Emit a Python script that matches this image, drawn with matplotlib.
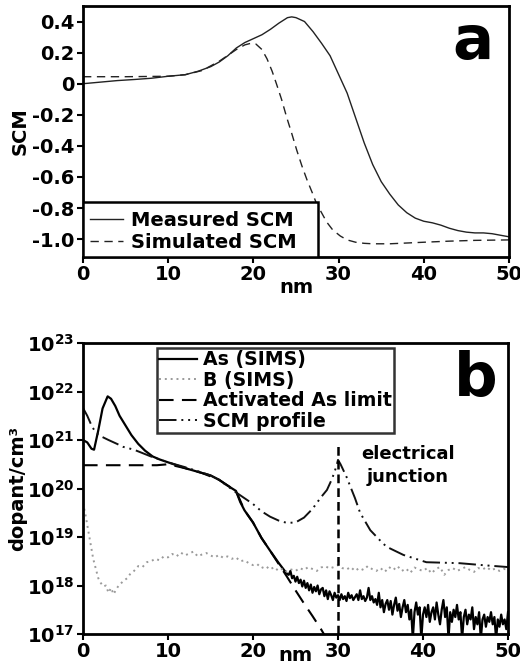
import numpy as np
import matplotlib
matplotlib.use("Agg")
import matplotlib.pyplot as plt
from matplotlib.patches import Rectangle

plt.rcParams['font.family'] = ['DejaVu Sans']
plt.rcParams['font.weight'] = 'bold'
plt.rcParams['mathtext.fontset'] = 'dejavusans'

# ---------------- Panel a data ----------------
meas_x = [0, 2, 4, 6, 8, 10, 12, 13.5, 15, 16, 17, 18, 19, 20, 21, 22, 23, 24, 24.5, 25,
          26, 27, 28, 29, 30, 30.5, 31, 32, 33, 34, 35, 36, 37, 38, 39, 40, 41, 42, 43,
          44, 45, 46, 47, 48, 49, 50]
meas_y = [0.0, 0.01, 0.02, 0.027, 0.035, 0.048, 0.058, 0.08, 0.11, 0.14, 0.18, 0.23, 0.265,
          0.29, 0.315, 0.35, 0.39, 0.425, 0.43, 0.425, 0.40, 0.335, 0.26, 0.18, 0.06, 0.0,
          -0.06, -0.22, -0.38, -0.52, -0.63, -0.71, -0.78, -0.83, -0.865, -0.885, -0.895,
          -0.91, -0.93, -0.945, -0.955, -0.96, -0.96, -0.965, -0.975, -0.985]

sim_x = [0, 5, 10, 12, 14, 16, 18, 19, 19.7, 20.3, 21, 21.6, 22.2, 22.7, 23.3, 23.9, 24.5,
         25.1, 25.7, 26.3, 26.9, 27.4, 28, 28.6, 29.3, 30.2, 31, 32, 33, 34, 36, 38, 40,
         43, 46, 50]
sim_y = [0.045, 0.045, 0.048, 0.058, 0.085, 0.145, 0.22, 0.25, 0.26, 0.255, 0.22, 0.16,
         0.08, 0.0, -0.1, -0.215, -0.32, -0.43, -0.53, -0.62, -0.70, -0.77, -0.83, -0.89,
         -0.94, -0.98, -1.005, -1.02, -1.027, -1.03, -1.03, -1.025, -1.02, -1.013, -1.008,
         -1.005]

a_yticks = [0.4, 0.2, 0, -0.2, -0.4, -0.6, -0.8, -1.0]
a_ylabels = ["0.4", "0.2", "0", "-0.2", "-0.4", "-0.6", "-0.8", "-1.0"]
x_ticks = [0, 10, 20, 30, 40, 50]

# ---------------- Panel b data (log10 of dopant/cm^3) ----------------
as_x = [0, 0.5, 1.0, 1.3, 1.8, 2.3, 2.9, 3.3, 3.8, 4.3, 5, 5.7, 6.5, 7.3, 8.2, 9, 10, 11,
        12, 13, 14, 15, 16, 17, 18, 18.5, 19, 20, 21, 22, 23, 24]
as_log = [21.0, 20.95, 20.82, 20.8, 21.2, 21.65, 21.9, 21.85, 21.7, 21.5, 21.3, 21.1,
          20.92, 20.78, 20.66, 20.6, 20.54, 20.48, 20.42, 20.37, 20.32, 20.27, 20.18,
          20.06, 19.95, 19.72, 19.55, 19.3, 18.98, 18.72, 18.47, 18.24]
# noisy tail of As (SIMS), every 0.2 nm from 24.2 to 50 nm
as_tail_log = [18.22, 18.30, 18.15, 18.20, 18.08, 18.18, 18.05, 18.12, 17.98, 18.10,
               17.95, 18.05, 17.90, 18.02, 17.85, 17.97, 17.88, 18.00, 17.82, 17.92,
               17.95, 17.78, 17.90, 17.72, 17.88, 17.80, 17.70, 17.85, 17.75, 17.80,
               17.70, 17.82, 17.72, 17.78, 17.68, 17.85, 17.74, 17.80, 17.70, 17.76,
               17.82, 17.70, 17.90, 17.72, 17.78, 17.68, 17.75, 17.95, 17.70, 17.78,
               17.65, 17.72, 17.60, 17.85, 17.55, 17.70, 17.45, 17.62, 17.70, 17.50,
               17.68, 17.40, 17.60, 17.75, 17.48, 17.62, 17.35, 17.55, 17.70, 17.45,
               17.60, 17.30, 17.50, 16.90, 17.45, 17.65, 17.40, 17.55, 16.90, 17.40,
               17.55, 17.35, 17.60, 17.25, 17.45, 17.55, 17.30, 17.65, 17.40, 17.20,
               17.50, 17.70, 17.35, 17.55, 16.90, 17.45, 17.25, 17.50, 17.35, 17.60,
               17.30, 17.45, 16.90, 17.35, 17.50, 17.20, 17.40, 17.30, 17.55, 17.10,
               17.35, 17.20, 17.45, 16.90, 17.30, 17.40, 17.15, 17.35, 17.25, 17.45,
               17.20, 17.35, 16.90, 17.30, 17.15, 17.40, 17.20, 17.30, 17.10, 17.45]
as_tail_x = np.round(np.arange(24.2, 50.0001, 0.2), 1)

b_x = [0, 0.3, 0.6, 0.9, 1.2, 1.5, 1.8, 2.1, 2.4, 2.7, 3.0, 3.3, 3.6, 3.9, 4.2, 4.5, 4.8,
       5.2, 5.6, 6.0, 6.5, 7, 7.5, 8, 8.5, 9, 9.5]
b_log = [19.7, 19.45, 19.15, 18.85, 18.55, 18.35, 18.15, 18.05, 17.98, 18.0, 17.85, 17.95,
         17.82, 17.92, 18.0, 18.05, 18.1, 18.15, 18.25, 18.3, 18.4, 18.38, 18.48, 18.5,
         18.55, 18.52, 18.6]
# B (SIMS) every 0.5 nm from 10 to 50 nm
b_tail_log = [18.58, 18.65, 18.60, 18.68, 18.62, 18.66, 18.70, 18.60, 18.64, 18.67,
              18.62, 18.58, 18.63, 18.57, 18.60, 18.55, 18.58, 18.50, 18.52, 18.46,
              18.42, 18.44, 18.36, 18.40, 18.33, 18.38, 18.30, 18.35, 18.28, 18.33,
              18.30, 18.36, 18.32, 18.38, 18.34, 18.30, 18.37, 18.40, 18.35, 18.38,
              18.42, 18.36, 18.33, 18.38, 18.30, 18.36, 18.32, 18.40, 18.34, 18.30,
              18.36, 18.28, 18.38, 18.32, 18.40, 18.30, 18.35, 18.26, 18.37, 18.33,
              18.30, 18.36, 18.25, 18.34, 18.38, 18.22, 18.32, 18.36, 18.30, 18.34,
              18.38, 18.32, 18.28, 18.36, 18.33, 18.38, 18.31, 18.35, 18.30, 18.34,
              18.33]
b_tail_x = np.arange(10, 50.0001, 0.5)

act_x = [0, 8.7, 10, 12, 14, 16, 18, 19, 20, 21, 22, 23, 24, 25, 26, 27, 28, 28.5]
act_log = [20.48, 20.48, 20.5, 20.42, 20.32, 20.18, 19.95, 19.55, 19.3, 18.98, 18.72,
           18.45, 18.18, 17.9, 17.63, 17.37, 17.1, 16.95]

scm_x = [0, 0.5, 1.0, 1.5, 2.3, 3, 4, 4.7, 6, 7, 8, 9, 10, 12, 14, 15, 16, 17, 18, 19, 20,
         21, 22, 23, 24, 25, 26, 27, 28, 28.7, 29.3, 29.8, 30, 30.3, 31, 32, 32.6, 33.8,
         35, 35.7, 37.7, 40.4, 44.3, 47, 50]
scm_log = [21.66, 21.5, 21.3, 21.15, 21.06, 21.0, 20.92, 20.86, 20.8, 20.73, 20.66, 20.6,
           20.54, 20.44, 20.33, 20.27, 20.18, 20.05, 19.92, 19.8, 19.68, 19.53, 19.42,
           19.34, 19.29, 19.3, 19.4, 19.58, 19.82, 19.97, 20.2, 20.45, 20.59, 20.5, 20.24,
           19.8, 19.5, 19.14, 18.92, 18.8, 18.63, 18.48, 18.46, 18.42, 18.38]

junction_x = 30
junction_top_log = 20.94

b_yexp = [17, 18, 19, 20, 21, 22, 23]

# ---------------- Figure ----------------
fig = plt.figure(figsize=(5.2, 6.61), dpi=100)
W, H = 520, 661
axa = fig.add_axes([83 / W, 1 - 257 / H, (509 - 83) / W, (257 - 6) / H])
axb = fig.add_axes([83 / W, 1 - 634 / H, (508 - 83) / W, (634 - 343) / H])

for ax in (axa, axb):
    for s in ax.spines.values():
        s.set_linewidth(2)
    ax.tick_params(direction='out', length=4, width=1.5, labelsize=14, pad=2)
    ax.set_xlim(0, 50)
    ax.set_xticks(x_ticks)
    ax.set_xticklabels([str(t) for t in x_ticks], fontweight='bold')

# Panel a
axa.plot(meas_x, meas_y, color='#222222', lw=1.0, label='Measured SCM')
axa.plot(sim_x, sim_y, color='#222222', lw=1.0, linestyle=(0, (6, 4)), label='Simulated SCM')
axa.set_ylim(-1.115, 0.5)
axa.set_yticks(a_yticks)
axa.set_yticklabels(a_ylabels, fontweight='bold')
axa.set_ylabel('SCM', fontsize=14, fontweight='bold', labelpad=2)
axa.text(0.5, -0.12, 'nm', transform=axa.transAxes, ha='center', va='center',
         fontsize=14, fontweight='bold')
axa.text(0.915, 0.855, 'a', transform=axa.transAxes, ha='center', va='center',
         fontsize=44, fontweight='bold')
lega = axa.legend(loc='lower left', bbox_to_anchor=(0.005, 0.0), borderaxespad=0,
                  prop={'size': 14, 'weight': 'bold'}, frameon=False,
                  handlelength=1.7, handletextpad=0.4,
                  labelspacing=0.15, borderpad=0.25)
axa.add_patch(Rectangle((0, 0), (318 - 83) / 426, (257 - 202) / 251,
                        transform=axa.transAxes, fill=True, facecolor='white',
                        edgecolor='black', lw=1.8, zorder=4))
lega.set_zorder(5)

# Panel b
axb.set_yscale('log')
axb.plot(list(as_x) + list(as_tail_x), [10 ** v for v in as_log + as_tail_log],
         color='black', lw=1.6, label='As (SIMS)')
axb.plot(list(b_x) + list(b_tail_x), [10 ** v for v in b_log + b_tail_log],
         color='#9a9a9a', lw=1.4, linestyle=(0, (1, 2)), label='B (SIMS)')
axb.plot(act_x, [10 ** v for v in act_log], color='black', lw=1.5,
         linestyle=(0, (7, 4)), label='Activated As limit')
axb.plot(scm_x, [10 ** v for v in scm_log], color='#111111', lw=1.4,
         linestyle=(0, (9, 2.5, 1, 2.5, 1, 2.5)), label='SCM profile')
axb.plot([junction_x, junction_x], [1e17, 10 ** junction_top_log], color='black',
         lw=1.8, linestyle=(0, (3.5, 2)))
axb.set_ylim(1e17, 1e23)
axb.set_yticks([10.0 ** e for e in b_yexp])
axb.set_yticklabels([r'$\mathbf{10}^{\mathbf{%d}}$' % e for e in b_yexp])
axb.yaxis.set_minor_locator(matplotlib.ticker.NullLocator())
axb.set_ylabel('dopant/cm³', fontsize=14, fontweight='bold', labelpad=0)
axb.text(0.5, -0.075, 'nm', transform=axb.transAxes, ha='center', va='center',
         fontsize=14, fontweight='bold')
axb.text(0.925, 0.875, 'b', transform=axb.transAxes, ha='center', va='center',
         fontsize=44, fontweight='bold')
axb.text(38.2, 10 ** 20.48, 'electrical\njunction', ha='center', va='center',
         fontsize=13, fontweight='bold', linespacing=1.35)
legb = axb.legend(loc='upper left', bbox_to_anchor=((157 - 83) / 425, 1 - 5 / 291),
                  borderaxespad=0, prop={'size': 13.6, 'weight': 'bold'}, frameon=True,
                  fancybox=False, edgecolor='black', handlelength=2.0,
                  handletextpad=0.3, labelspacing=0.08, borderpad=0.12)
legb.get_frame().set_linewidth(1.8)

fig.savefig('out.png', dpi=100)
